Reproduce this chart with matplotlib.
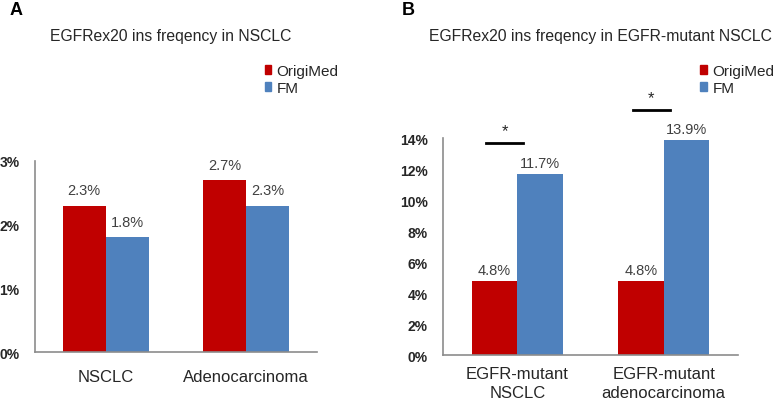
import matplotlib
matplotlib.use("Agg")
import matplotlib.pyplot as plt
from matplotlib.patches import Patch

plt.rcParams["font.family"] = ["Liberation Sans", "DejaVu Sans"]

# data
series = ["OrigiMed", "FM"]
colors = ["#C00000", "#4F81BD"]

cats_a = ["NSCLC", "Adenocarcinoma"]
origimed_a = [2.3, 2.7]
fm_a = [1.8, 2.3]
yticks_a = [0, 1, 2, 3]

cats_b = ["EGFR-mutant\nNSCLC", "EGFR-mutant\nadenocarcinoma"]
origimed_b = [4.8, 4.8]
fm_b = [11.7, 13.9]
yticks_b = [0, 2, 4, 6, 8, 10, 12, 14]
sig_levels_b = [13.7, 15.8]

W = 0.31
TXT = "#404040"


def draw_panel(ax, cats, vals1, vals2, yticks, ymax, gap):
    x = range(len(cats))
    for i, (v1, v2) in enumerate(zip(vals1, vals2)):
        ax.bar(i - W / 2, v1, W, color=colors[0])
        ax.bar(i + W / 2, v2, W, color=colors[1])
        for xc, v in [(i - W / 2, v1), (i + W / 2, v2)]:
            ax.annotate(f"{v:.1f}%", (xc, v), xytext=(0, gap), textcoords="offset points",
                        ha="center", va="bottom", fontsize=10.5, color=TXT,
                        annotation_clip=False)
    ax.set_xlim(-0.507, len(cats) - 0.493)
    ax.set_ylim(0, ymax)
    ax.set_xticks(list(x))
    ax.set_xticklabels(cats, fontsize=12, color="#262626", linespacing=1.3)
    ax.set_yticks(yticks)
    ax.set_yticklabels([f"{t}%" for t in yticks], fontsize=10, fontweight="bold",
                       color="#262626")
    ax.tick_params(length=0)
    ax.tick_params(axis="x", pad=12)
    ax.tick_params(axis="y", pad=11)
    for s in ["top", "right"]:
        ax.spines[s].set_visible(False)
    for s in ["left", "bottom"]:
        ax.spines[s].set_color("#8c8c8c")
        ax.spines[s].set_linewidth(1.2)


fig = plt.figure(figsize=(7.78, 4.06), dpi=100)
ax_a = fig.add_axes([0.045, 0.1305, 0.3625, 0.4705])
ax_b = fig.add_axes([0.5694, 0.123, 0.3792, 0.5346])

draw_panel(ax_a, cats_a, origimed_a, fm_a, yticks_a, 3, 6)
draw_panel(ax_b, cats_b, origimed_b, fm_b, yticks_b, 14, 2.5)
ax_b.tick_params(axis="x", pad=8)

# significance bars
for i, lvl in enumerate(sig_levels_b):
    ax_b.plot([i - 0.21, i + 0.04], [lvl, lvl], color="black", lw=2, clip_on=False)
    ax_b.text(i - 0.085, lvl + 0.3, "*", ha="center", va="bottom", fontsize=12,
              color="#262626", clip_on=False)

# titles and panel letters
fig.text(0.064, 0.91, "EGFRex20 ins freqency in NSCLC", fontsize=11.3, color="#262626",
         va="center")
fig.text(0.552, 0.91, "EGFRex20 ins freqency in EGFR-mutant NSCLC", fontsize=11.3,
         color="#262626", va="center")
fig.text(0.012, 0.975, "A", fontsize=13, fontweight="bold", va="center")
fig.text(0.517, 0.975, "B", fontsize=13, fontweight="bold", va="center")

handles = [Patch(color=c, label=s) for c, s in zip(colors, series)]
for xpos in [0.340, 0.900]:
    fig.legend(handles=handles, loc="upper left", bbox_to_anchor=(xpos, 0.84),
               frameon=False, fontsize=11, handlelength=0.45, handleheight=0.55,
               handletextpad=0.35, labelspacing=0.2, borderaxespad=0, borderpad=0,
               labelcolor="#262626")

fig.savefig("out.png", dpi=100, facecolor="white")
